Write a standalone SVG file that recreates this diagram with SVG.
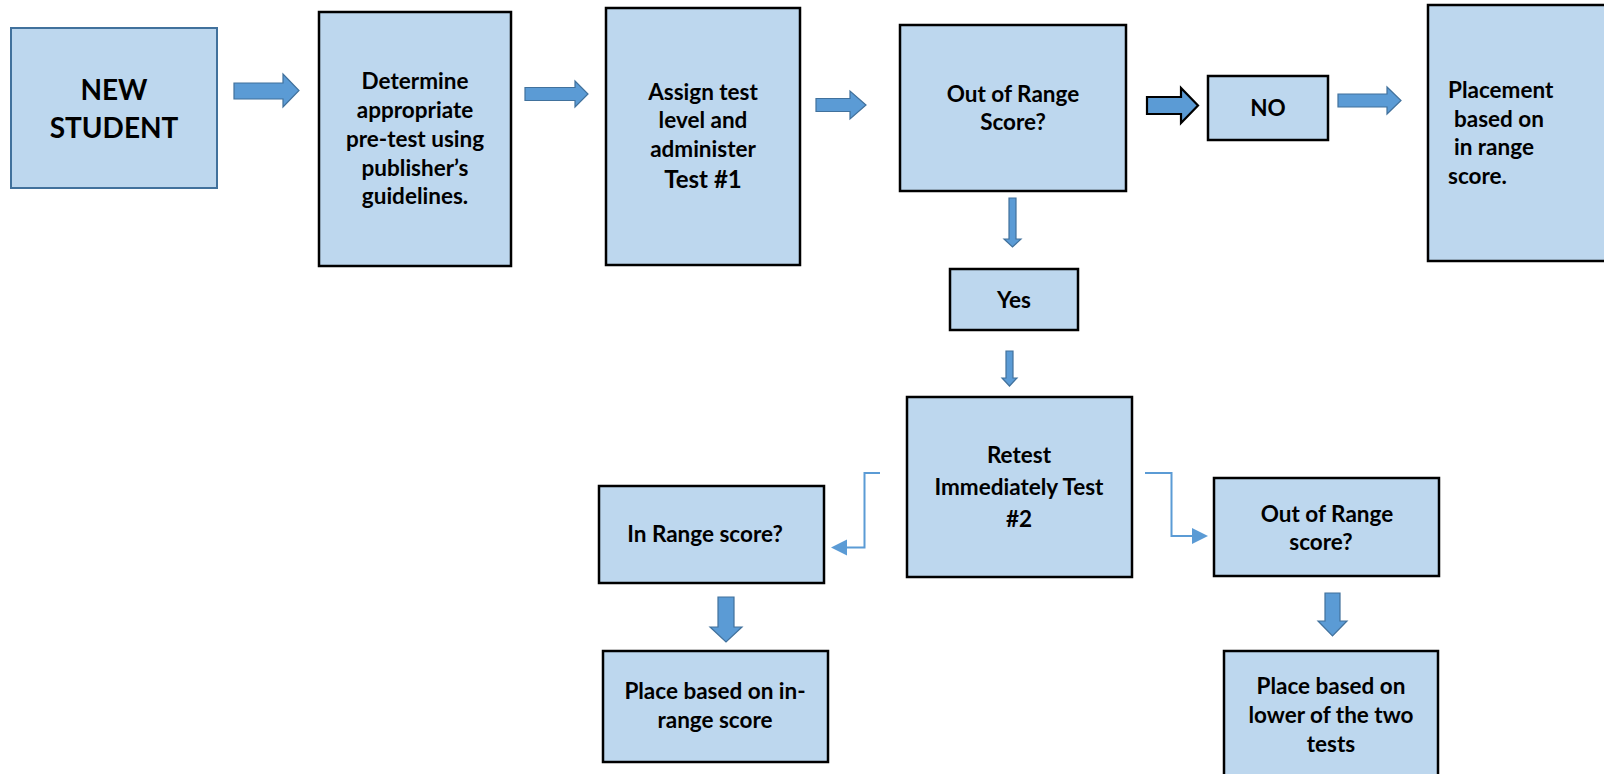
<svg xmlns="http://www.w3.org/2000/svg" width="1604" height="774" viewBox="0 0 1604 774">
  <style>
    .box { fill: #bdd7ee; stroke: #000; stroke-width: 2.5; }
    .box-blue { fill: #bdd7ee; stroke: #41719c; stroke-width: 2; }
    .lbl { font-family: Lato, "Open Sans", "Liberation Sans", sans-serif; font-weight: bold; font-size: 22.5px; fill: #000; text-anchor: middle; }
    .lbl-left { text-anchor: start; }
    .big { font-size: 28px; }
    .mid { font-size: 24px; }
    .block { fill: #5b9bd5; stroke: #41719c; stroke-width: 1.2; stroke-linejoin: miter; }
    .block-dark { fill: #5b9bd5; stroke: #000; stroke-width: 2.2; }
    .elbow { fill: none; stroke: #5b9bd5; stroke-width: 2; }
    .tip { fill: #5b9bd5; }
  </style>
  <rect width="1604" height="774" fill="#fff"/>

  <g id="connectors">
    <!-- horizontal block arrows along the top row -->
    <polygon class="block" points="234,83 283,83 283,74 299,90.5 283,107 283,99 234,99"/>
    <polygon class="block" points="525,87.5 575,87.5 575,81 588,94 575,107 575,100.5 525,100.5"/>
    <polygon class="block" points="816,98.5 850,98.5 850,91 866,105 850,119 850,111.5 816,111.5"/>
    <polygon class="block-dark" points="1147,97 1181,97 1181,88 1198,105.5 1181,123 1181,114 1147,114"/>
    <polygon class="block" points="1338,94 1387,94 1387,87 1401,100.5 1387,114 1387,107 1338,107"/>
    <!-- vertical block arrows -->
    <polygon class="block" points="1009,198 1016,198 1016,239 1021,239 1012.5,247 1004,239 1009,239"/>
    <polygon class="block" points="1006,351 1013,351 1013,378 1017,378 1009.5,386 1002,378 1006,378"/>
    <polygon class="block" points="718,597 734,597 734,627 742,627 726,642 710,627 718,627"/>
    <polygon class="block" points="1325,593 1340,593 1340,621 1347,621 1332.5,636 1318,621 1325,621"/>
    <!-- elbow connectors from the retest box -->
    <polyline class="elbow" points="880,473 864.5,473 864.5,547.5 844,547.5"/>
    <polygon class="tip" points="831,547.5 847,539.5 847,555.5"/>
    <polyline class="elbow" points="1145,473 1171.5,473 1171.5,536 1195,536"/>
    <polygon class="tip" points="1208,536 1192,528 1192,544"/>
  </g>

  <g id="new-student">
    <rect class="box-blue" x="11" y="28" width="206" height="160"/>
    <text class="lbl big" x="114" y="100">NEW</text>
    <text class="lbl big" x="114" y="138">STUDENT</text>
  </g>

  <g id="determine-pretest">
    <rect class="box" x="319" y="12" width="192" height="254"/>
    <text class="lbl" x="415" y="89">Determine</text>
    <text class="lbl" x="415" y="118">appropriate</text>
    <text class="lbl" x="415" y="147">pre-test using</text>
    <text class="lbl" x="415" y="176">publisher’s</text>
    <text class="lbl" x="415" y="204">guidelines.</text>
  </g>

  <g id="assign-test">
    <rect class="box" x="606" y="8" width="194" height="257"/>
    <text class="lbl" x="703" y="100">Assign test</text>
    <text class="lbl" x="703" y="128">level and</text>
    <text class="lbl" x="703" y="157">administer</text>
    <text class="lbl mid" x="703" y="188">Test #1</text>
  </g>

  <g id="out-of-range-1">
    <rect class="box" x="900" y="25" width="226" height="166"/>
    <text class="lbl" x="1013" y="102">Out of Range</text>
    <text class="lbl" x="1013" y="130">Score?</text>
  </g>

  <g id="no">
    <rect class="box" x="1208" y="76" width="120" height="64"/>
    <text class="lbl" x="1268" y="116">NO</text>
  </g>

  <g id="placement">
    <rect class="box" x="1428" y="5" width="184" height="256"/>
    <text class="lbl lbl-left" x="1448" y="98">Placement</text>
    <text class="lbl lbl-left" x="1454" y="127">based on</text>
    <text class="lbl lbl-left" x="1454" y="155">in range</text>
    <text class="lbl lbl-left" x="1448" y="184">score.</text>
  </g>

  <g id="yes">
    <rect class="box" x="950" y="269" width="128" height="61"/>
    <text class="lbl" x="1014" y="308">Yes</text>
  </g>

  <g id="retest">
    <rect class="box" x="907" y="397" width="225" height="180"/>
    <text class="lbl" x="1019" y="463">Retest</text>
    <text class="lbl" x="1019" y="495">Immediately Test</text>
    <text class="lbl" x="1019" y="527">#2</text>
  </g>

  <g id="in-range">
    <rect class="box" x="599" y="486" width="225" height="97"/>
    <text class="lbl" x="705" y="542">In Range score?</text>
  </g>

  <g id="place-in-range">
    <rect class="box" x="603" y="651" width="225" height="111"/>
    <text class="lbl" x="715" y="699">Place based on in-</text>
    <text class="lbl" x="715" y="728">range score</text>
  </g>

  <g id="out-of-range-2">
    <rect class="box" x="1214" y="478" width="225" height="98"/>
    <text class="lbl" x="1327" y="522">Out of Range</text>
    <text class="lbl" x="1321" y="550">score?</text>
  </g>

  <g id="place-lower">
    <rect class="box" x="1224" y="651" width="214" height="130"/>
    <text class="lbl" x="1331" y="694">Place based on</text>
    <text class="lbl" x="1331" y="723">lower of the two</text>
    <text class="lbl" x="1331" y="752">tests</text>
  </g>
</svg>
